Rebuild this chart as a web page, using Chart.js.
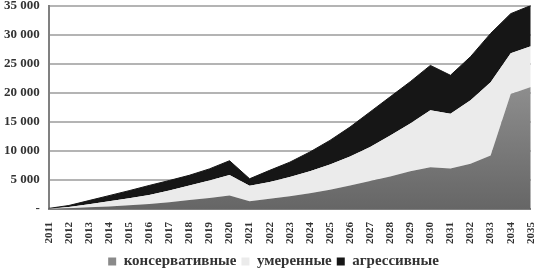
<!DOCTYPE html>
<html>
<head>
<meta charset="utf-8">
<script src="https://cdn.jsdelivr.net/npm/chart.js@4"></script>
<style>
  body { margin: 0; background: #fff; }
  #wrap { width: 549px; height: 279px; }
</style>
</head>
<body>
<div id="wrap"><canvas id="areaChart"></canvas></div>
<script>
// years on the x axis
const years = ['2011','2012','2013','2014','2015','2016','2017','2018','2019','2020','2021','2022',
  '2023','2024','2025','2026','2027','2028','2029','2030','2031','2032','2033','2034','2035'];

// stacked values for each scenario
const conservative = [20, 120, 300, 450, 650, 880, 1150, 1550, 1900, 2330, 1350, 1750,
  2200, 2700, 3300, 4050, 4800, 5600, 6500, 7200, 6950, 7800, 9200, 19800, 21000];
const moderate = [40, 230, 500, 900, 1200, 1520, 2050, 2500, 3000, 3520, 2650, 2900,
  3300, 3800, 4350, 5000, 5850, 7050, 8200, 9800, 9450, 10900, 12600, 7000, 7000];
const aggressive = [40, 250, 650, 950, 1300, 1650, 1700, 1750, 2000, 2450, 1200, 2000,
  2550, 3300, 4150, 5050, 6050, 6650, 7200, 7700, 6600, 7500, 8400, 6800, 7000];

const seriesNames = ['консервативные', 'умеренные', 'агрессивные'];

// gray gradient for the bottom area
function grayFill(context) {
    const area = context.chart.chartArea;
    if (!area) return '#808080';
    const g = context.chart.ctx.createLinearGradient(0, area.top, 0, area.bottom);
    g.addColorStop(0, '#a8a8a8');
    g.addColorStop(1, '#666666');
    return g;
}

const ctx = document.getElementById('areaChart').getContext('2d');

new Chart(ctx, {
    type: 'line',
    data: {
        labels: years,
        datasets: [
            {
                label: seriesNames[0],
                data: conservative,
                backgroundColor: grayFill,
                borderColor: '#8a8a8a',
                borderWidth: 0,
                fill: 'origin',
                pointRadius: 0,
                tension: 0
            },
            {
                label: seriesNames[1],
                data: moderate,
                backgroundColor: '#ebebeb',
                borderColor: '#ebebeb',
                borderWidth: 0,
                fill: '-1',
                pointRadius: 0,
                tension: 0
            },
            {
                label: seriesNames[2],
                data: aggressive,
                backgroundColor: '#161616',
                borderColor: '#161616',
                borderWidth: 1,
                fill: '-1',
                pointRadius: 0,
                tension: 0
            }
        ]
    },
    options: {
        responsive: true,
        maintainAspectRatio: false,
        animation: false,
        layout: { padding: { left: 4, right: 6, top: 0, bottom: 0 } },
        plugins: {
            legend: {
                position: 'bottom',
                labels: {
                    boxWidth: 8,
                    boxHeight: 8,
                    padding: 5,
                    color: '#333',
                    font: { family: '"Liberation Serif", serif', size: 15, weight: 'bold' },
                    generateLabels: function (chart) {
                        const fills = ['#8a8a8a', '#ebebeb', '#161616'];
                        return chart.data.datasets.map((ds, i) => ({
                            text: ds.label,
                            fillStyle: fills[i],
                            strokeStyle: fills[i],
                            lineWidth: 0,
                            datasetIndex: i,
                            fontColor: '#333'
                        }));
                    }
                }
            },
            tooltip: { enabled: false }
        },
        scales: {
            x: {
                stacked: true,
                offset: false,
                grid: { display: false },
                border: { color: '#808080', width: 2 },
                ticks: {
                    minRotation: 90,
                    maxRotation: 90,
                    autoSkip: false,
                    padding: 5,
                    color: '#333',
                    font: { family: '"Liberation Serif", serif', size: 11, weight: 'bold' }
                }
            },
            y: {
                stacked: true,
                min: 0,
                max: 35000,
                // transparent tick marks keep the gap between labels and axis
                grid: { color: '#b4b4b4', lineWidth: 2, drawTicks: true, tickLength: 9, tickColor: 'rgba(0,0,0,0)' },
                border: { color: '#808080', width: 2 },
                ticks: {
                    stepSize: 5000,
                    padding: 0,
                    color: '#333',
                    font: { family: '"Liberation Serif", serif', size: 13, weight: 'bold', lineHeight: 0.85 },
                    callback: function (value) {
                        if (value === 0) return '-';
                        return String(value).replace(/\B(?=(\d{3})+(?!\d))/g, ' ');
                    }
                }
            }
        }
    }
});
</script>
</body>
</html>
